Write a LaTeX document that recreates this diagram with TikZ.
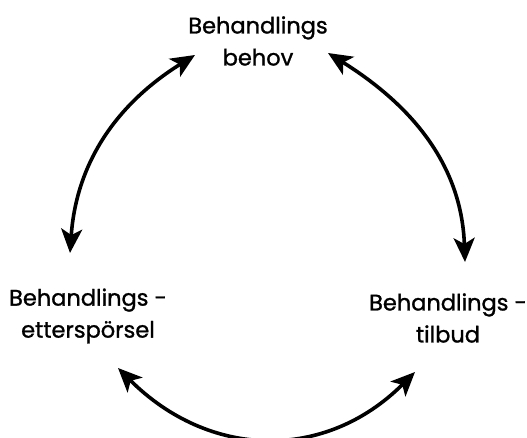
\documentclass[tikz,border=0pt]{standalone}
\usepackage{fontspec}
\setmainfont{Poppins}
\newfontfamily\lblfont{Poppins}[FakeBold=1.2]
\usetikzlibrary{arrows.meta}
\begin{document}
\begin{tikzpicture}[x=1pt,y=1pt,
  lbl/.style={align=center,font=\lblfont\fontsize{22.5}{32}\selectfont,inner sep=0pt},
  tip/.style={Stealth[length=24pt,width=21pt,inset=6pt]},
  conn/.style={line width=3.6pt,{Stealth[length=24pt,width=21pt,inset=6pt]}-{Stealth[length=24pt,width=21pt,inset=6pt]}}]
\useasboundingbox (0,0) rectangle (527,438);
\node[lbl] (need) at (258,397) {Behandlings\\behov};
\node[lbl] (demand) at (88,122) {Behandlings -\\etterspörsel};
\node[lbl] (offer) at (448,120) {Behandlings -\\tilbud};
\coordinate (a1) at (70,185);
\coordinate (a2) at (195,383);
\coordinate (b1) at (328,385);
\coordinate (b2) at (465,176);
\coordinate (c1) at (118,70);
\coordinate (c2) at (415,66);
\draw[conn] (a1) to[out=86,in=212] (a2);
\draw[conn] (b1) to[out=-32,in=92] (b2);
\draw[conn] (c1) to[out=-45,in=-135,looseness=1.1] (c2);
\end{tikzpicture}
\end{document}
